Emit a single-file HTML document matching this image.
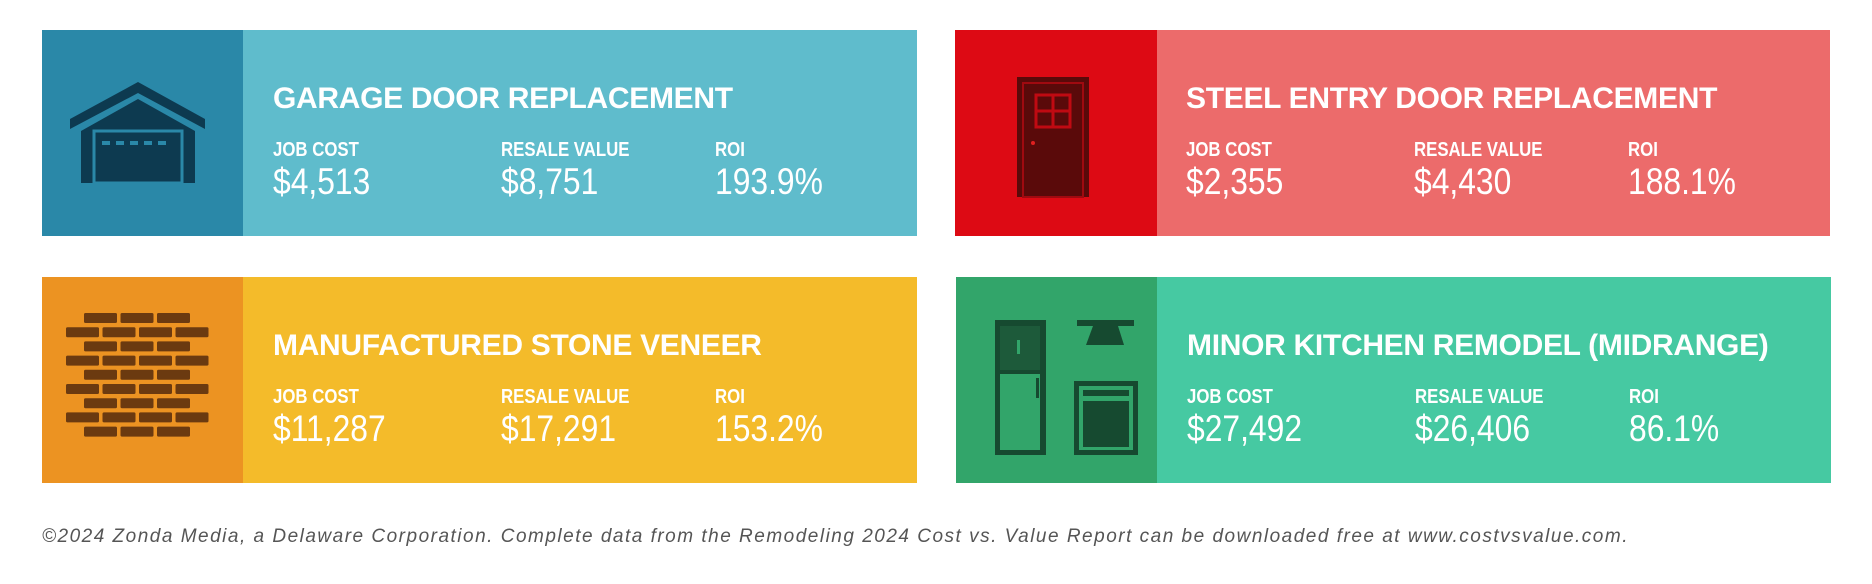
<!DOCTYPE html>
<html><head><meta charset="utf-8">
<style>
html,body{margin:0;padding:0;background:#fff;width:1872px;height:584px;overflow:hidden;position:relative;font-family:"Liberation Sans",sans-serif}
.card{position:absolute;width:875px;height:206px}
.panel{position:absolute;left:0;top:0;width:201px;height:100%}
.panel svg{position:absolute;left:0;top:0}
.title{position:absolute;left:231px;top:54px;color:#fff;font-weight:bold;font-size:30px;line-height:1;letter-spacing:-0.3px;white-space:nowrap}
.lab{position:absolute;top:110px;color:#fff;font-weight:bold;font-size:20px;line-height:1;white-space:nowrap;transform:scaleX(0.84);transform-origin:0 0}
.val{position:absolute;top:133px;color:#fff;font-size:37px;line-height:1;white-space:nowrap;transform:scaleX(0.86);transform-origin:0 0}
.c1{left:231px}.c2{left:459px}.c3{left:673px}
.foot{position:absolute;left:42px;top:526px;color:#555;font-style:italic;font-size:19px;white-space:nowrap;letter-spacing:1.5px}
</style></head><body>

<div class="card" style="left:42px;top:30px;background:#5fbccc">
 <div class="panel" style="background:#2a88a8">
  <svg width="201" height="206">
   <polygon points="28,89 96,52 163,89 163,99 96,63 28,99" fill="#0d3a50"/>
   <polygon points="39,101 96,69 153,101 153,153 39,153" fill="#0d3a50"/>
   <rect x="52" y="101" width="88" height="52" fill="none" stroke="#2a88a8" stroke-width="3"/>
   <g fill="#2a88a8"><rect x="60" y="111" width="8" height="4"/><rect x="74" y="111" width="8" height="4"/><rect x="88" y="111" width="8" height="4"/><rect x="102" y="111" width="8" height="4"/><rect x="116" y="111" width="8" height="4"/></g>
  </svg>
 </div>
 <div class="title">GARAGE DOOR REPLACEMENT</div>
 <div class="lab c1">JOB COST</div>
 <div class="val c1">$4,513</div>
 <div class="lab c2">RESALE VALUE</div>
 <div class="val c2">$8,751</div>
 <div class="lab c3">ROI</div>
 <div class="val c3">193.9%</div>
</div>

<div class="card" style="left:955px;top:30px;background:#ec6b6b">
 <div class="panel" style="background:#dd0a14;width:202px">
  <svg width="202" height="206">
   <rect x="62" y="47" width="72" height="120" fill="#5a0a0a"/>
   <rect x="68" y="53" width="60" height="114" fill="none" stroke="#a00a10" stroke-width="2"/>
   <rect x="81" y="65" width="34" height="32" fill="none" stroke="#c00a12" stroke-width="3"/>
   <line x1="98" y1="65" x2="98" y2="97" stroke="#c00a12" stroke-width="3"/>
   <line x1="81" y1="81" x2="115" y2="81" stroke="#c00a12" stroke-width="3"/>
   <circle cx="78" cy="113" r="2" fill="#e02020"/>
  </svg>
 </div>
 <div class="title">STEEL ENTRY DOOR REPLACEMENT</div>
 <div class="lab c1">JOB COST</div>
 <div class="val c1">$2,355</div>
 <div class="lab c2">RESALE VALUE</div>
 <div class="val c2">$4,430</div>
 <div class="lab c3">ROI</div>
 <div class="val c3">188.1%</div>
</div>

<div class="card" style="left:42px;top:277px;background:#f4bb2a">
 <div class="panel" style="background:#ec9322">
  <svg width="201" height="206" id="bricks"></svg>
 </div>
 <div class="title">MANUFACTURED STONE VENEER</div>
 <div class="lab c1">JOB COST</div>
 <div class="val c1">$11,287</div>
 <div class="lab c2">RESALE VALUE</div>
 <div class="val c2">$17,291</div>
 <div class="lab c3">ROI</div>
 <div class="val c3">153.2%</div>
</div>

<div class="card" style="left:956px;top:277px;background:#46c9a2">
 <div class="panel" style="background:#32a56a">
  <svg width="201" height="206">
   <rect x="39" y="43" width="51" height="135" fill="#164a30"/>
   <rect x="44" y="97" width="40" height="76" fill="#32a56a"/>
   <rect x="80" y="101" width="3" height="20" fill="#164a30"/>
   <rect x="44" y="49" width="40" height="44" fill="#1d5a3a"/>
   <rect x="61" y="63" width="3" height="14" fill="#32a56a"/>
   <rect x="121" y="43" width="57" height="6" fill="#164a30"/>
   <polygon points="137,49 162,49 168,68 130,68" fill="#164a30"/>
   <rect x="118" y="104" width="64" height="74" fill="#164a30"/>
   <rect x="123" y="109" width="54" height="64" fill="#32a56a"/>
   <rect x="127" y="124" width="46" height="46" fill="#164a30"/>
   <rect x="127" y="113" width="46" height="6" fill="#164a30"/>
  </svg>
 </div>
 <div class="title">MINOR KITCHEN REMODEL (MIDRANGE)</div>
 <div class="lab c1">JOB COST</div>
 <div class="val c1">$27,492</div>
 <div class="lab c2">RESALE VALUE</div>
 <div class="val c2">$26,406</div>
 <div class="lab c3">ROI</div>
 <div class="val c3">86.1%</div>
</div>

<div class="foot">©2024 Zonda Media, a Delaware Corporation. Complete data from the Remodeling 2024 Cost vs. Value Report can be downloaded free at www.costvsvalue.com.</div>

<script>
var svg=document.getElementById('bricks');
for(var r=0;r<9;r++){
  var odd=r%2===1;
  var n=odd?4:3;
  var x0=odd?24:42;
  for(var i=0;i<n;i++){
    var b=document.createElementNS('http://www.w3.org/2000/svg','rect');
    
    
    b.setAttribute('x',x0+i*36.5);b.setAttribute('y',36+r*14.2);
    b.setAttribute('width',33);b.setAttribute('height',10);b.setAttribute('rx',1.5);
    b.setAttribute('fill','#6b3a10');
    svg.appendChild(b);
  }
}
</script>
</body></html>
